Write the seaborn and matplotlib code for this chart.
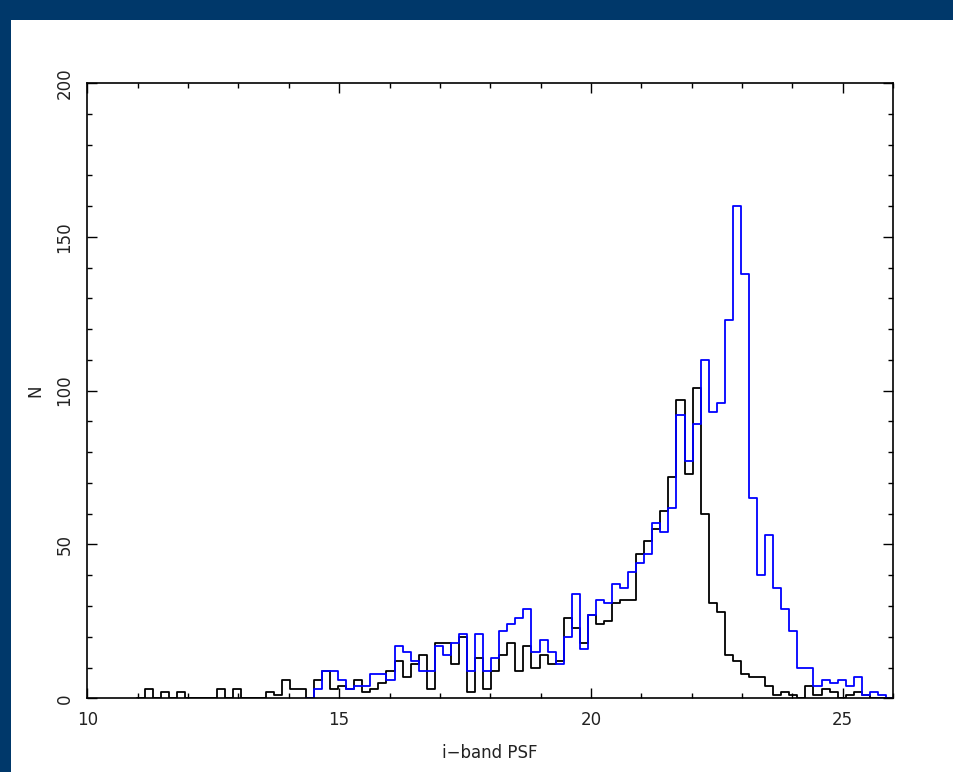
import numpy as np
import pandas as pd
import matplotlib
matplotlib.use("Agg")
import matplotlib.pyplot as plt
from matplotlib.patches import Rectangle
from matplotlib.ticker import MultipleLocator
import seaborn as sns

# ---- data ----
BIN_START = 11.14
BIN_WIDTH = 0.16

black_counts = [
    3, 0, 2, 0, 2, 0, 0, 0, 0, 3,
    0, 3, 0, 0, 0, 2, 1, 6, 3, 3,
    0, 6, 9, 3, 4, 3, 6, 2, 3, 5,
    9, 12, 7, 11, 14, 3, 18, 18, 11, 20,
    2, 13, 3, 9, 14, 18, 9, 17, 10, 14,
    11, 12, 26, 23, 18, 27, 24, 25, 31, 32,
    32, 47, 51, 55, 61, 72, 97, 73, 101, 60,
    31, 28, 14, 12, 8, 7, 7, 4, 1, 2,
    1, 0, 4, 1, 3, 2, 0, 1, 2, 1,
    0, 0,
]

BLUE_FIRST_BIN = 21
blue_counts = [
    3, 9, 9, 6, 3, 4, 4, 8, 8, 6,
    17, 15, 12, 9, 9, 17, 14, 18, 21, 9,
    21, 9, 13, 22, 24, 26, 29, 15, 19, 15,
    11, 20, 34, 16, 27, 32, 31, 37, 36, 41,
    44, 47, 57, 54, 62, 92, 77, 89, 110, 93,
    96, 123, 160, 138, 65, 40, 53, 36, 29, 22,
    10, 10, 4, 6, 5, 6, 4, 7, 1, 2, 1,
]

x_ticks_major = [10, 15, 20, 25]
y_ticks_major = [0, 50, 100, 150, 200]
x_label = "i\u2212band PSF"
y_label = "N"


def hist_frame(counts, first_bin):
    # pad with an empty bin on both sides so the outline closes at the baseline
    w = [0] + list(counts) + [0]
    idx = np.arange(first_bin - 1, first_bin + len(counts) + 1)
    centers = BIN_START + (idx + 0.5) * BIN_WIDTH
    edges = BIN_START + np.append(idx, idx[-1] + 1) * BIN_WIDTH
    return pd.DataFrame({"mag": centers, "n": w}), edges.tolist()


df_black, edges_black = hist_frame(black_counts, 0)
df_blue, edges_blue = hist_frame(blue_counts, BLUE_FIRST_BIN)

sns.set_style("ticks")
plt.rcParams["font.family"] = ["DejaVu Sans"]

W, H = 954, 772
fig = plt.figure(figsize=(W / 100, H / 100), dpi=100)
fig.patch.set_facecolor("white")

navy = "#00386a"
fig.patches.append(Rectangle((0, 1 - 20 / H), 1, 20 / H, transform=fig.transFigure,
                             facecolor=navy, edgecolor="none", zorder=0))
fig.patches.append(Rectangle((0, 0), 11 / W, 1, transform=fig.transFigure,
                             facecolor=navy, edgecolor="none", zorder=0))

left, right = 87.4 / W, 893 / W
bottom, top = 1 - 698.3 / H, 1 - 83 / H
ax = fig.add_axes([left, bottom, right - left, top - bottom])
ax.set_facecolor("white")

sns.histplot(data=df_black, x="mag", weights="n", bins=edges_black,
             element="step", fill=False, color="black", linewidth=1.3, ax=ax)
sns.histplot(data=df_blue, x="mag", weights="n", bins=edges_blue,
             element="step", fill=False, color="#0000ff", linewidth=1.3, ax=ax)

ax.set_xlim(10, 26)
ax.set_ylim(0, 200)
ax.set_xticks(x_ticks_major)
ax.set_yticks(y_ticks_major)
ax.xaxis.set_minor_locator(MultipleLocator(1))
ax.yaxis.set_minor_locator(MultipleLocator(10))

for s in ax.spines.values():
    s.set_visible(True)
    s.set_linewidth(1.2)
    s.set_color("black")

ax.tick_params(which="both", direction="in", top=True, right=True,
               color="black", width=1.0)
ax.tick_params(which="major", length=7)
ax.tick_params(which="minor", length=3.6)
ax.tick_params(axis="x", labelsize=12, pad=9, labelcolor="#222222")
ax.tick_params(axis="y", labelsize=12, pad=10, labelcolor="#222222")
for lab in ax.get_yticklabels():
    lab.set_rotation(90)
    lab.set_va("center")

ax.set_xlabel(x_label, fontsize=12, labelpad=11, color="#222222")
ax.set_ylabel(y_label, fontsize=12, labelpad=8, color="#222222")

fig.savefig("out.png", dpi=100, facecolor=fig.get_facecolor())
